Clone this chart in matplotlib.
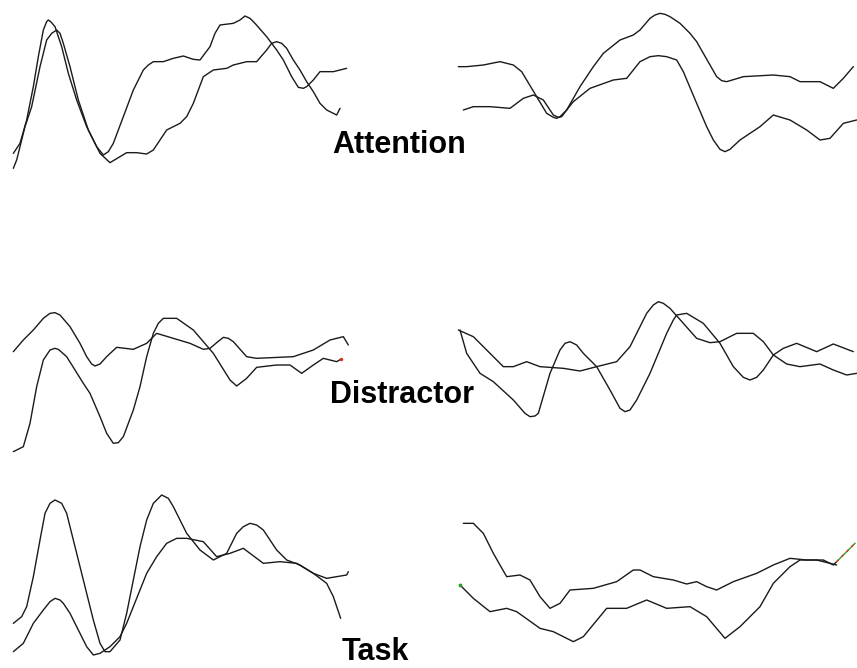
import matplotlib
matplotlib.use("Agg")
import matplotlib.pyplot as plt

# ---- data (time sample, amplitude; amplitude axis inverted, negative up) ----
att_l_a_t = [40,60,80,100,115,130,140,145,152,165,185,205,230,260,290,310,325,340,370,400,430,445,460,490,520,550,580,600,630,645,660,700,720,735,750,765,800,830,850,875,895,910,920,940,960,1000,1040]
att_l_a_v = [460,430,360,260,170,90,65,60,65,80,140,220,300,380,440,465,455,430,350,270,210,195,185,185,175,168,178,180,140,100,75,70,60,48,55,70,110,150,180,230,262,265,260,240,215,215,205]
att_l_b_t = [40,50,75,95,120,140,155,170,180,190,210,235,265,300,330,360,380,410,440,460,480,500,540,560,580,610,640,680,700,740,770,800,815,830,845,860,880,900,920,940,960,980,1000,1010,1020]
att_l_b_v = [505,480,380,320,200,120,100,90,100,130,200,300,390,460,488,470,458,458,462,450,420,390,370,350,310,230,210,205,195,185,185,150,130,125,130,145,180,210,245,275,310,330,340,345,325]

att_r_a_t = [55,80,130,180,220,245,260,290,320,340,350,360,380,420,460,490,540,580,600,630,645,660,675,690,720,750,770,790,810,830,845,860,910,1000,1050,1080,1140,1180,1210,1240]
att_r_a_v = [200,200,195,185,195,215,240,290,340,352,355,350,330,260,200,160,120,105,90,55,45,40,43,50,70,100,125,160,195,230,242,245,230,225,230,245,245,265,235,200]
att_r_b_t = [70,100,150,210,250,280,310,340,355,365,380,400,450,520,560,600,630,655,680,710,730,770,800,820,840,855,870,900,960,1000,1050,1100,1140,1170,1210,1250]
att_r_b_v = [330,320,320,325,295,285,300,345,352,350,330,305,265,240,235,185,170,167,170,180,215,310,380,420,448,455,448,420,380,345,360,390,420,415,370,360]

dis_l_a_t = [40,70,100,130,150,165,180,210,240,260,275,285,300,320,350,400,440,470,520,570,610,630,650,670,685,700,740,770,880,940,990,1030,1045]
dis_l_a_v = [185,150,120,85,70,68,75,110,160,200,222,228,222,200,172,178,160,130,145,160,178,175,158,142,145,155,200,205,200,180,150,140,165]
dis_l_b_t = [40,70,90,110,130,150,165,175,200,250,270,300,320,340,355,370,400,420,440,460,475,490,530,580,640,690,710,740,770,830,870,905,940,970,1010,1022]
dis_l_b_v = [485,470,400,290,210,180,175,178,200,280,310,380,430,460,458,440,360,290,200,130,100,85,85,120,190,270,288,265,232,225,225,250,225,205,215,208]

dis_r_a_t = [55,100,150,190,220,260,300,370,420,470,530,570,600,620,640,655,670,690,730,770,810,840,890,940,970,1000,1040,1080,1140,1180,1220,1250]
dis_r_a_v = [120,140,190,230,230,215,230,235,243,230,215,170,110,70,45,35,40,55,100,145,158,155,130,130,155,195,222,230,222,240,255,250]
dis_r_b_t = [60,80,120,160,220,255,270,285,295,330,360,375,390,410,430,470,510,540,555,570,590,630,680,700,710,740,790,840,880,910,930,950,970,1000,1030,1070,1130,1180,1240]
dis_r_b_v = [120,190,250,275,330,370,380,378,370,250,180,160,155,165,190,230,300,355,365,360,330,250,130,90,75,70,100,160,230,262,270,262,240,195,175,160,185,162,185]

task_l_a_t = [40,65,80,100,120,135,150,165,185,200,220,240,260,280,300,315,330,360,380,400,420,440,460,485,505,520,560,600,640,680,710,730,750,770,790,830,860,900,940,980,1000,1022]
task_l_a_v = [430,410,380,290,180,100,70,60,70,100,180,260,340,420,490,515,515,480,400,300,200,120,70,45,55,80,160,210,240,220,160,140,130,135,150,210,240,255,280,310,350,415]
task_l_b_t = [40,70,100,130,150,165,180,190,210,240,260,280,300,330,360,380,400,420,440,470,500,530,560,610,650,690,730,790,840,890,940,980,1040,1045]
task_l_b_v = [515,490,430,390,365,355,360,370,400,460,500,525,520,500,470,430,380,330,280,230,190,175,175,185,230,220,205,250,245,250,280,295,285,275]

task_r_a_t = [70,100,130,160,200,240,270,300,330,360,390,460,530,580,600,640,700,740,770,800,830,880,950,1000,1050,1100,1150,1180,1190]
task_r_a_v = [130,130,160,220,290,285,300,350,385,370,330,325,305,270,270,290,300,312,305,320,330,305,280,255,235,240,240,255,245]
task_r_tail_t = [1190,1245]
task_r_tail_v = [245,190]
task_r_b_t = [60,100,150,200,230,300,340,400,430,500,560,620,680,750,800,855,900,960,1000,1050,1080,1130,1170,1190]
task_r_b_v = [315,355,395,385,395,445,455,485,470,385,385,360,385,380,410,475,440,380,310,260,240,240,250,255]

labels = ["Attention", "Distractor", "Task"]

# ---- layout ----
W, H = 857, 668
fig = plt.figure(figsize=(W / 100, H / 100), dpi=100)
fig.patch.set_facecolor("white")

panels = [
    ((0, 0, 360, 180), [(att_l_a_t, att_l_a_v), (att_l_b_t, att_l_b_v)]),
    ((440, 0, 417, 180), [(att_r_a_t, att_r_a_v), (att_r_b_t, att_r_b_v)]),
    ((0, 290, 360, 170), [(dis_l_a_t, dis_l_a_v), (dis_l_b_t, dis_l_b_v)]),
    ((440, 290, 417, 170), [(dis_r_a_t, dis_r_a_v), (dis_r_b_t, dis_r_b_v)]),
    ((0, 480, 360, 188), [(task_l_a_t, task_l_a_v), (task_l_b_t, task_l_b_v)]),
    ((440, 480, 417, 188), [(task_r_a_t, task_r_a_v), (task_r_b_t, task_r_b_v)]),
]

axes = []
for (x0, y0, w, h), traces in panels:
    ax = fig.add_axes([x0 / W, 1 - (y0 + h) / H, w / W, h / H])
    ax.set_xlim(0, w * 3)
    ax.set_ylim(h * 3, 0)
    ax.axis("off")
    for t, v in traces:
        ax.plot(t, v, color="#1a1a1a", lw=1.0, solid_joinstyle="round",
                solid_capstyle="round")
    axes.append(ax)

# coloured end segment on the last panel
axes[5].plot(task_r_tail_t, task_r_tail_v, color="#2ca02c", lw=1.0)
axes[5].plot(task_r_tail_t, task_r_tail_v, color="#e03020", lw=1.0, ls=(0, (2, 3)))
# small coloured marks at trace ends
axes[2].plot(dis_l_b_t[-1:], dis_l_b_v[-1:], "o", color="#e03020", ms=1.5)
axes[5].plot(task_r_b_t[:1], task_r_b_v[:1], "o", color="#2ca02c", ms=1.8)

label_pos = [(332, 153), (330, 403), (342, 660)]
for lab, (x, y) in zip(labels, label_pos):
    fig.text(x / W, 1 - y / H, lab, fontsize=22, fontweight="bold",
             family="Liberation Sans", ha="left", va="baseline", color="black")

fig.savefig("out.png", dpi=100, facecolor="white")
